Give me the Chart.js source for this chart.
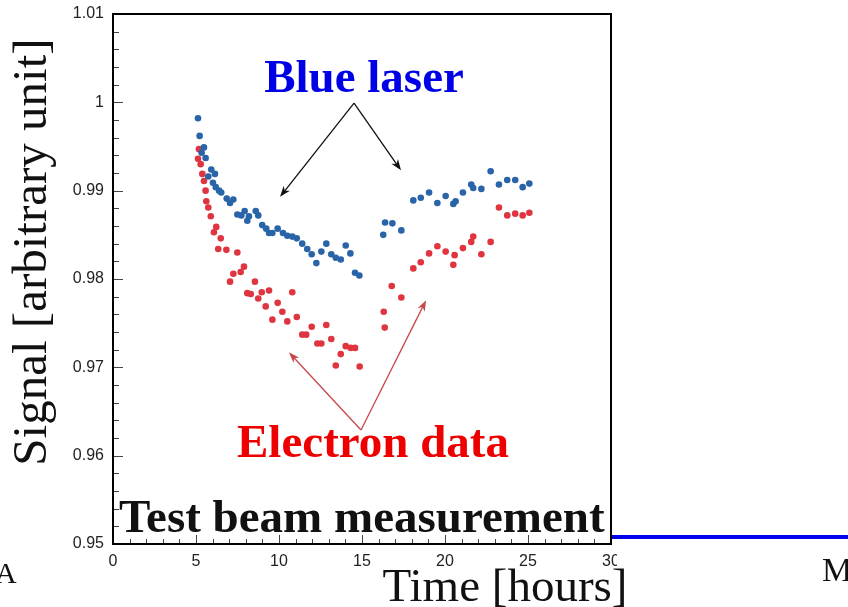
<!DOCTYPE html>
<html>
<head>
<meta charset="utf-8">
<title>Signal vs time</title>
<script src="https://cdn.jsdelivr.net/npm/chart.js@4/dist/chart.umd.min.js"></script>
<style>
  html, body { margin: 0; padding: 0; background: #fff; }
  canvas { display: block; }
</style>
</head>
<body>
<canvas id="myChart" width="848" height="607"></canvas>
<script>
// blue laser monitoring (time in hours, relative signal)
const blueTime = [5.12, 5.22, 5.34, 5.48, 5.58, 5.74, 5.92, 6.02, 6.14, 6.19,
    6.39, 6.52, 6.85, 7.05, 7.25, 7.49, 7.73, 7.93, 8.09, 8.19,
    8.60, 8.75, 8.99, 9.23, 9.40, 9.60, 9.92, 10.24, 10.50, 10.80,
    11.07, 11.40, 11.70, 11.97, 12.25, 12.55, 12.85, 13.15, 13.42, 13.72,
    14.02, 14.30, 14.58, 14.84,
    16.28, 16.39, 16.83, 17.37, 18.09, 18.54, 19.04, 19.54, 20.04, 20.50,
    20.64, 21.08, 21.58, 21.70, 22.19, 22.75, 23.25, 23.75, 24.23, 24.68, 25.08];
const blueSignal = [0.9982, 0.9962, 0.9943, 0.9949, 0.9937, 0.9916, 0.9924, 0.9909, 0.9919, 0.9904,
    0.9900, 0.9898, 0.9891, 0.9886, 0.9890, 0.9873, 0.9872, 0.9877, 0.9866, 0.9871,
    0.9877, 0.9872, 0.9861, 0.9857, 0.9852, 0.9852, 0.9857, 0.9852, 0.9849, 0.9848,
    0.9846, 0.9840, 0.9834, 0.9828, 0.9818, 0.9831, 0.9840, 0.9828, 0.9824, 0.9822,
    0.9838, 0.9829, 0.9807, 0.9804,
    0.9850, 0.9864, 0.9863, 0.9855, 0.9889, 0.9892, 0.9898, 0.9886, 0.9894, 0.9885,
    0.9888, 0.9898, 0.9907, 0.9903, 0.9902, 0.9922, 0.9907, 0.9912, 0.9912, 0.9904, 0.9908];

// electron data
const redTime = [5.12, 5.18, 5.28, 5.38, 5.48, 5.58, 5.62, 5.74, 5.89, 6.08,
    6.22, 6.34, 6.49, 6.83, 7.05, 7.25, 7.49, 7.69, 7.89, 8.09,
    8.30, 8.55, 8.75, 8.96, 9.20, 9.40, 9.60, 9.92, 10.20, 10.50,
    10.80, 11.07, 11.40, 11.64, 11.97, 12.31, 12.55, 12.85, 13.15, 13.42,
    13.72, 14.02, 14.32, 14.58, 14.86,
    16.31, 16.37, 16.79, 17.37, 18.09, 18.54, 19.04, 19.54, 20.04, 20.50,
    20.58, 21.08, 21.58, 21.70, 22.19, 22.75, 23.25, 23.75, 24.23, 24.68, 25.08];
const redSignal = [0.9936, 0.9947, 0.9930, 0.9919, 0.9911, 0.9900, 0.9888, 0.9881, 0.9871, 0.9853,
    0.9859, 0.9834, 0.9846, 0.9833, 0.9797, 0.9806, 0.9830, 0.9808, 0.9814, 0.9784,
    0.9783, 0.9797, 0.9778, 0.9785, 0.9769, 0.9787, 0.9754, 0.9773, 0.9763, 0.9752,
    0.9785, 0.9757, 0.9737, 0.9737, 0.9746, 0.9727, 0.9727, 0.9748, 0.9732, 0.9702,
    0.9715, 0.9724, 0.9722, 0.9722, 0.9701,
    0.9763, 0.9745, 0.9792, 0.9779, 0.9812, 0.9819, 0.9829, 0.9837, 0.9831, 0.9816,
    0.9827, 0.9835, 0.9842, 0.9848, 0.9828, 0.9842, 0.9881, 0.9872, 0.9874, 0.9872, 0.9875];

const xTicks = [0, 5, 10, 15, 20, 25, 30];
const yTicks = [0.95, 0.96, 0.97, 0.98, 0.99, 1.00, 1.01];

// arrow anchors in data units: [common tail, head 1, head 2]
const laserArrows = [[14.52, 0.9999], [10.06, 0.9893], [17.35, 0.9923]];
const electronArrows = [[14.94, 0.9629], [10.60, 0.9717], [18.86, 0.9776]];

function pairs(xs, ys) {
    return xs.map((t, i) => ({ x: t, y: ys[i] }));
}

function arrow(ctx, x0, y0, x1, y1, color) {
    const ang = Math.atan2(y1 - y0, x1 - x0);
    const len = 11, half = 4;
    ctx.strokeStyle = color;
    ctx.fillStyle = color;
    ctx.lineWidth = 1.3;
    ctx.beginPath();
    ctx.moveTo(x0, y0);
    ctx.lineTo(x1 - Math.cos(ang) * len * 0.7, y1 - Math.sin(ang) * len * 0.7);
    ctx.stroke();
    ctx.beginPath();
    ctx.moveTo(x1, y1);
    ctx.lineTo(x1 - Math.cos(ang) * len - Math.sin(ang) * half, y1 - Math.sin(ang) * len + Math.cos(ang) * half);
    ctx.lineTo(x1 - Math.cos(ang) * len * 0.7, y1 - Math.sin(ang) * len * 0.7);
    ctx.lineTo(x1 - Math.cos(ang) * len + Math.sin(ang) * half, y1 - Math.sin(ang) * len - Math.cos(ang) * half);
    ctx.closePath();
    ctx.fill();
}

const decor = {
    id: 'decor',
    beforeDraw(chart) {
        const ctx = chart.ctx;
        ctx.save();
        ctx.fillStyle = '#fff';
        ctx.fillRect(0, 0, chart.width, chart.height);
        ctx.restore();
    },
    afterDraw(chart) {
        const { ctx, chartArea: a, scales: { x, y } } = chart;
        ctx.save();

        // inward ticks, ROOT style
        ctx.strokeStyle = '#444';
        ctx.lineWidth = 1;
        ctx.beginPath();
        for (let i = 0; i <= 30; i++) {
            const py = Math.round(y.getPixelForValue(0.95 + i * 0.002)) + 0.5;
            const l = i % 5 === 0 ? 10 : 6;
            ctx.moveTo(a.left, py);
            ctx.lineTo(a.left + l, py);
        }
        for (let i = 0; i <= 30; i++) {
            const px = Math.round(x.getPixelForValue(i)) + 0.5;
            const l = i % 5 === 0 ? 9 : 5;
            ctx.moveTo(px, a.bottom);
            ctx.lineTo(px, a.bottom - l);
        }
        ctx.stroke();

        // frame
        ctx.strokeStyle = '#000';
        ctx.lineWidth = 2;
        ctx.strokeRect(a.left, a.top, a.right - a.left, a.bottom - a.top);

        // arrows
        const p = d => [x.getPixelForValue(d[0]), y.getPixelForValue(d[1])];
        const [b0, b1, b2] = laserArrows.map(p);
        arrow(ctx, b0[0], b0[1], b1[0], b1[1], '#111');
        arrow(ctx, b0[0], b0[1], b2[0], b2[1], '#111');
        const [r0, r1, r2] = electronArrows.map(p);
        arrow(ctx, r0[0], r0[1], r1[0], r1[1], '#c8474a');
        arrow(ctx, r0[0], r0[1], r2[0], r2[1], '#c8474a');

        // cropped edge of the figure
        ctx.fillStyle = '#fff';
        ctx.fillRect(a.right + 6, a.bottom + 2, chart.width - a.right, 22);

        // slide underline
        ctx.fillStyle = '#0000ee';
        ctx.fillRect(a.right + 1, 535, chart.width - a.right, 4);

        // labels
        ctx.textBaseline = 'alphabetic';
        ctx.textAlign = 'center';
        ctx.font = 'bold 47px "Liberation Serif"';
        ctx.fillStyle = '#0000e6';
        ctx.fillText('Blue laser', 364, 92);
        ctx.fillStyle = '#ee0000';
        ctx.fillText('Electron data', 373, 457);
        ctx.fillStyle = '#111';
        ctx.textAlign = 'left';
        ctx.fillText('Test beam measurement', 119, 532);

        ctx.font = '47px "Liberation Serif"';
        ctx.textAlign = 'center';
        ctx.fillText('Time [hours]', 505, 601);

        ctx.textAlign = 'left';
        ctx.font = '34px "Liberation Serif"';
        ctx.fillText('M', 822, 581);
        ctx.font = '30px "Liberation Serif"';
        ctx.fillText('A', -5, 583);

        ctx.translate(46, 252);
        ctx.rotate(-Math.PI / 2);
        ctx.textAlign = 'center';
        ctx.font = '49px "Liberation Serif"';
        ctx.fillText('Signal [arbitrary unit]', 0, 0);

        ctx.restore();
    }
};

new Chart('myChart', {
    type: 'scatter',
    data: {
        datasets: [{
            label: 'Blue laser',
            data: pairs(blueTime, blueSignal),
            backgroundColor: '#2a64a8',
            borderWidth: 0,
            pointRadius: 3.3
        }, {
            label: 'Electron data',
            data: pairs(redTime, redSignal),
            backgroundColor: '#df3540',
            borderWidth: 0,
            pointRadius: 3.3
        }]
    },
    options: {
        responsive: false,
        animation: false,
        layout: { padding: { top: 14, right: 237, left: 0, bottom: 0 } },
        plugins: {
            legend: { display: false },
            tooltip: { enabled: false }
        },
        scales: {
            x: {
                type: 'linear',
                min: 0,
                max: 30,
                afterFit: s => {
                    s.height = 63;
                    s.paddingLeft = 0;
                    s.paddingRight = 0;
                },
                afterBuildTicks: s => { s.ticks = xTicks.map(v => ({ value: v })); },
                grid: { display: false, drawTicks: false },
                border: { display: false },
                ticks: {
                    padding: 8,
                    color: '#222',
                    font: { family: 'Liberation Sans', size: 16 },
                    callback: v => String(v)
                }
            },
            y: {
                min: 0.95,
                max: 1.01,
                afterFit: s => {
                    s.width = 113;
                    s.paddingTop = 0;
                    s.paddingBottom = 0;
                },
                afterBuildTicks: s => { s.ticks = yTicks.map(v => ({ value: v })); },
                grid: { display: false, drawTicks: false },
                border: { display: false },
                ticks: {
                    padding: 9,
                    color: '#222',
                    font: { family: 'Liberation Sans', size: 16 },
                    callback: v => String(+v.toFixed(2))
                }
            }
        }
    },
    plugins: [decor]
});
</script>
</body>
</html>
